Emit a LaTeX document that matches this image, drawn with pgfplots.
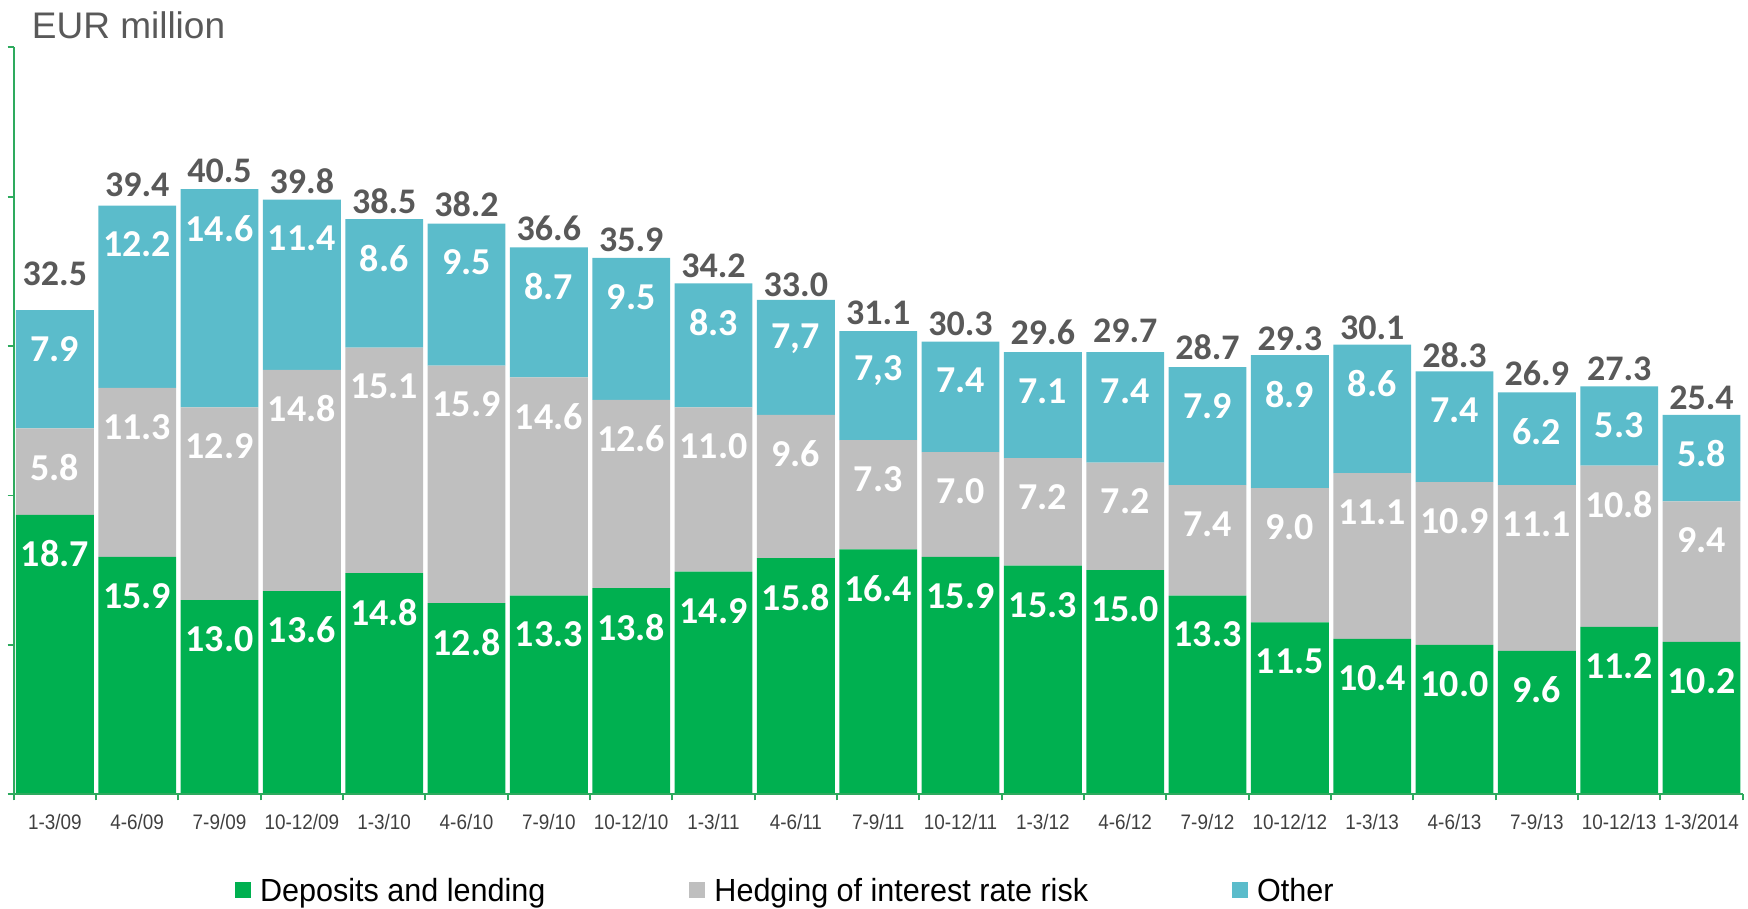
\documentclass[border=0pt]{standalone}
\usepackage{fontspec}
\usepackage{pgfplots}
\usepackage{pgfplotstable}
\pgfplotsset{compat=1.18}
\setmainfont{Liberation Sans}
\newfontfamily\lblfont{Carlito}
\newfontfamily\tickfont{Liberation Sans}[FakeStretch=0.9]
\newfontfamily\legfont{Liberation Sans}[FakeStretch=0.955]

\definecolor{depgreen}{HTML}{00B050}
\definecolor{hedgegray}{HTML}{BFBFBF}
\definecolor{otherblue}{HTML}{5BBCCB}
\definecolor{axisgreen}{HTML}{2EAA5E}
\definecolor{totalgray}{HTML}{595959}
\definecolor{tickgray}{HTML}{404040}

% quarterly net interest income by component, EUR million
% g = deposits and lending, h = hedging of interest rate risk, o = other
% ol = printed label of "other", t = printed total, dy = raise of total label
\pgfplotstableread{
x  g    h    o    ol   t    dy
0  18.7 5.8  7.9  7.9  32.5 35
1  15.9 11.3 12.2 12.2 39.4 21
2  13.0 12.9 14.6 14.6 40.5 18
3  13.6 14.8 11.4 11.4 39.8 18
4  14.8 15.1 8.6  8.6  38.5 18
5  12.8 15.9 9.5  9.5  38.2 19
6  13.3 14.6 8.7  8.7  36.6 19
7  13.8 12.6 9.5  9.5  35.9 18
8  14.9 11.0 8.3  8.3  34.2 18
9  15.8 9.6  7.7  7,7  33.0 16
10 16.4 7.3  7.3  7,3  31.1 17
11 15.9 7.0  7.4  7.4  30.3 18
12 15.3 7.2  7.1  7.1  29.6 20
13 15.0 7.2  7.4  7.4  29.7 20
14 13.3 7.4  7.9  7.9  28.7 18
15 11.5 9.0  8.9  8.9  29.3 18
16 10.4 11.1 8.6  8.6  30.1 17
17 10.0 10.9 7.4  7.4  28.3 16
18 9.6  11.1 6.2  6.2  26.9 19
19 11.2 10.8 5.3  5.3  27.3 18
20 10.2 9.4  5.8  5.8  25.4 17
}\datatable

\pgfplotsset{
  frame/.style={scale only axis, width=1729pt, height=747pt,
    xmin=-0.5, xmax=20.5, ymin=0, ymax=50, enlargelimits=false, clip=false},
}

\begin{document}
\begin{tikzpicture}
\begin{axis}[
  frame,
  ybar stacked, bar width=0.945,
  axis on top,
  axis x line*=bottom, axis y line*=left,
  axis line style={draw=axisgreen, line width=1.8pt},
  tick align=outside,
  major tick length=6pt,
  tick style={draw=axisgreen, line width=1.8pt},
  xtick={-0.5,0.5,...,20.5}, xticklabels={},
  ytick={0,10,...,50}, yticklabels={},
  extra x ticks={0,...,20},
  extra x tick labels={1-3/09,4-6/09,7-9/09,10-12/09,1-3/10,4-6/10,7-9/10,10-12/10,1-3/11,4-6/11,7-9/11,10-12/11,1-3/12,4-6/12,7-9/12,10-12/12,1-3/13,4-6/13,7-9/13,10-12/13,1-3/2014},
  extra x tick style={major tick length=0pt, tick style={draw=none}},
  xticklabel style={font=\tickfont\fontsize{21}{21}\selectfont, text=tickgray, anchor=base, yshift=-35.7pt},
  legend columns=3,
  legend style={draw=none, fill=none, inner sep=0pt, outer sep=0pt,
    at={(axis description cs:0.128,-0.1296)}, anchor=west,
    font=\legfont\fontsize{32}{32}\selectfont, text=black,
    cells={anchor=base west},
    /tikz/every odd column/.append style={column sep=7pt},
    /tikz/every even column/.append style={column sep=142pt}},
  legend image code/.code={\fill[#1, draw=none] (0pt,3.5pt) rectangle (16pt,19.5pt);},
  legend entries={Deposits and lending, Hedging of interest rate risk, Other},
  % stacked labels sit mid-segment; move them up to just below the segment top
  visualization depends on={rawy \as \segv},
  every node near coord/.append style={font=\lblfont\bfseries\fontsize{38}{38}\selectfont,
      text=white, anchor=center, yshift={\segv*7.47pt-39pt}},
]
\addlegendimage{fill=depgreen}
\addlegendimage{fill=hedgegray}
\addlegendimage{fill=otherblue}
\addplot[draw=none, fill=depgreen, nodes near coords, point meta=explicit symbolic]
  table[x=x, y=g, meta=g] {\datatable};
\addplot[draw=none, fill=hedgegray, nodes near coords, point meta=explicit symbolic]
  table[x=x, y=h, meta=h] {\datatable};
\addplot[draw=none, fill=otherblue, nodes near coords, point meta=explicit symbolic]
  table[x=x, y=o, meta=ol] {\datatable};
\end{axis}
% totals printed above each stack
\begin{axis}[frame, hide axis]
\addplot[draw=none, mark=none, nodes near coords, point meta=explicit symbolic,
  visualization depends on={\thisrow{dy}\as\dy},
  every node near coord/.append style={font=\lblfont\bfseries\fontsize{36}{36}\selectfont,
    text=totalgray, anchor=center, yshift={\dy*1pt}}]
  table[x=x, y=t, meta=t] {\datatable};
\end{axis}
\node[anchor=base west, inner sep=0pt, font=\fontsize{37}{37}\selectfont, text=totalgray]
  at (18pt,756pt) {EUR million};
\pgfresetboundingbox
\useasboundingbox (-13.7pt,-114.7pt) rectangle (1734.3pt,794.3pt);
\end{tikzpicture}
\end{document}
